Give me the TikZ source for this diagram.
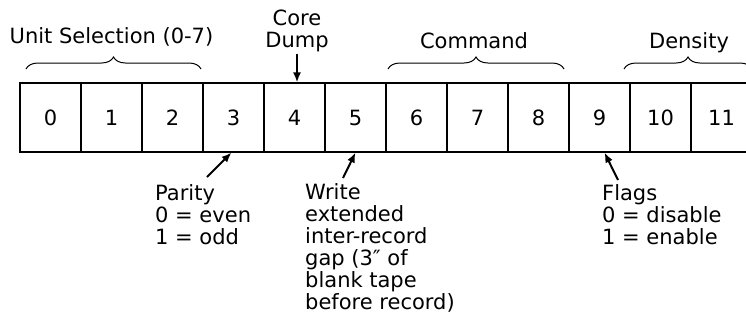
\documentclass[tikz,border=0pt]{standalone}
\usepackage{fontspec}
\setmainfont{DejaVu Sans}
\usetikzlibrary{arrows.meta,decorations.pathreplacing,calc}
\begin{document}
\begin{tikzpicture}[x=1pt,y=-1pt,
  txt/.style={inner sep=0pt,font=\fontsize{21}{22}\selectfont},
  cell/.style={txt,draw,line width=1.1pt,minimum width=61pt,minimum height=69pt},
  note/.style={txt,align=left,anchor=base west},
  arr/.style={line width=2pt,-{Latex[length=10pt,width=8pt]}},
  brc/.style={decorate,decoration={brace,amplitude=12pt},line width=1pt}]
\useasboundingbox (0,0) rectangle (746,322);
\clip (0,0) rectangle (746,322);
\fill[white] (0,0) rectangle (746,322);
% register cells
\foreach \i in {0,...,11}
  \node[cell] (c\i) at ({50.5+61*\i},117.5) {\i};
% braces and field names
\draw[brc] (26,69) -- (201,69);
\draw[brc] (388,69) -- (564,69);
\draw[brc] (624,69) -- (752,69);
\node[txt,anchor=base] (unit) at (111.5,43) {Unit Selection (0-7)};
\node[txt,anchor=base] (cmd) at (474,48) {Command};
\node[txt,anchor=base] (dens) at (689,48) {Density};
% core dump
\node[txt,align=center,anchor=base] (core) at (297,47) {Core\\Dump};
\draw[arr] ([yshift=-2pt]core.south) -- (core.south |- c4.north);
% notes below (base anchor = last line)
\node[note] (parity) at (155,244) {Parity\\0 = even\\1 = odd};
\coordinate (pt) at (207,177);
\draw[arr] (pt) -- ($(c3.south)+(-2,0)$);
\node[note] (write) at (305,309) {Write\\extended\\inter-record\\gap (3″ of\\blank tape\\before record)};
\coordinate (wt) at (343,178);
\draw[arr] (wt) -- (c5.south);
\node[note] (flags) at (602,244) {Flags\\0 = disable\\1 = enable};
\coordinate (ft) at (618,180);
\draw[arr] (ft) -- ($(c9.south)+(5,0)$);
\end{tikzpicture}
\end{document}
